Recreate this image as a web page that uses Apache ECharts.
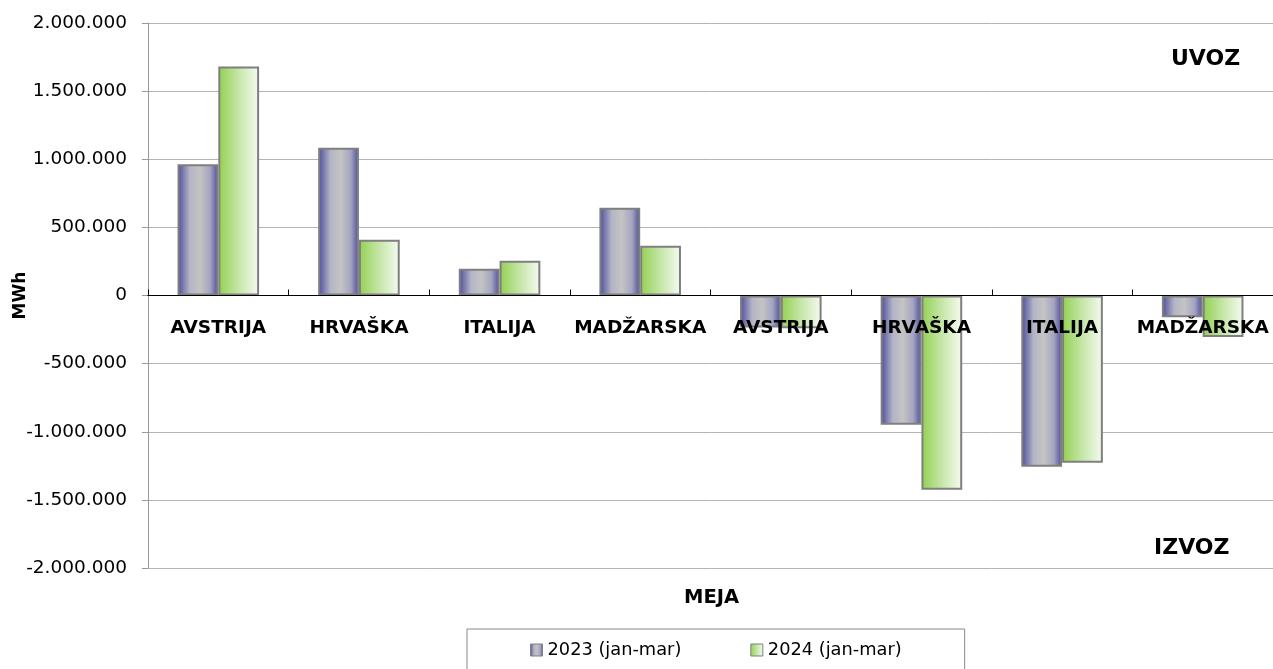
<!DOCTYPE html>
<html>
<head>
<meta charset="utf-8">
<script src="https://cdn.jsdelivr.net/npm/echarts@6/dist/echarts.min.js"></script>
<style>
html,body{margin:0;padding:0;background:#fff;}
#c{width:1273px;height:669px;}
</style>
</head>
<body>
<div id="c"></div>
<script>
const categories = ['AVSTRIJA','HRVAŠKA','ITALIJA','MADŽARSKA','AVSTRIJA','HRVAŠKA','ITALIJA','MADŽARSKA'];
const seriesNames = ['2023 (jan-mar)','2024 (jan-mar)'];
const values2023 = [964000, 1084000, 196000, 644000, -235000, -949000, -1257000, -159000];
const values2024 = [1681000, 409000, 255000, 365000, -240000, -1426000, -1228000, -305000];
const yTicks = [-2000000, 2000000, 500000];

function fmt(v){
  const s = Math.abs(v).toString().replace(/\B(?=(\d{3})+(?!\d))/g, '.');
  return (v < 0 ? '-' : '') + s;
}
const FONT = '"DejaVu Sans", "Liberation Sans", sans-serif';
const grad2023 = new echarts.graphic.LinearGradient(0,0,1,0,[
  {offset:0,color:'#4a4a9c'},{offset:0.3,color:'#b4b4c6'},{offset:0.55,color:'#c4c4c4'},{offset:0.8,color:'#a4a4c0'},{offset:1,color:'#4a4a9c'}]);
const grad2024 = new echarts.graphic.LinearGradient(0,0,1,0,[
  {offset:0,color:'#92d050'},{offset:0.5,color:'#c6e6a8'},{offset:1,color:'#f6fbf2'}]);

const GRID_TOP = 23, GRID_BOTTOM = 101, H = 669;
const plotH = H - GRID_TOP - GRID_BOTTOM;
const zeroOffset = -plotH * (0 - yTicks[0]) / (yTicks[1] - yTicks[0]);

const chart = echarts.init(document.getElementById('c'));
chart.setOption({
  animation:false,
  backgroundColor:'#fff',
  grid:{left:148,right:0,top:GRID_TOP,bottom:GRID_BOTTOM,containLabel:false,outerBoundsMode:'none'},
  legend:{
    bottom:-14, left:467,
    itemWidth:12,itemHeight:12,itemGap:69,
    padding:[12,63,24,63],
    borderColor:'#888',borderWidth:1,
    textStyle:{fontFamily:FONT,fontSize:17.8,color:'#000'},
    data:[
      {name:seriesNames[0],icon:'rect',itemStyle:{color:grad2023,borderColor:'#7f7f7f',borderWidth:1}},
      {name:seriesNames[1],icon:'rect',itemStyle:{color:grad2024,borderColor:'#7f7f7f',borderWidth:1}}
    ]
  },
  xAxis:{
    type:'category',data:categories,
    z:10,
    offset:zeroOffset,
    axisLine:{onZero:false,lineStyle:{color:'#000',width:1}},
    axisTick:{show:true,inside:true,length:6,lineStyle:{color:'#000'}},
    axisLabel:{interval:0,margin:23,fontFamily:FONT,fontSize:18.5,fontWeight:'bold',color:'#000'},
    splitLine:{show:false}
  },
  yAxis:{
    type:'value',min:yTicks[0],max:yTicks[1],interval:yTicks[2],
    name:'MWh',nameLocation:'middle',nameGap:119,nameRotate:90,nameMoveOverlap:false,
    nameTextStyle:{fontFamily:FONT,fontSize:17,fontWeight:'bold',color:'#000'},
    axisLine:{show:true,lineStyle:{color:'#999'}},
    axisTick:{show:true,length:6,lineStyle:{color:'#999'}},
    axisLabel:{margin:21,fontFamily:FONT,fontSize:18.5,color:'#000',formatter:fmt},
    splitLine:{show:true,lineStyle:{color:'#b4b4b4',width:1}}
  },
  series:[
    {name:seriesNames[0],type:'bar',data:values2023,barGap:'0%',barCategoryGap:'42%',
     itemStyle:{color:grad2023,borderColor:'#7f7f7f',borderWidth:2}},
    {name:seriesNames[1],type:'bar',data:values2024,barGap:'0%',barCategoryGap:'42%',
     itemStyle:{color:grad2024,borderColor:'#7f7f7f',borderWidth:2}}
  ],
  graphic:[
    {type:'text',left:1171,top:48,style:{text:'UVOZ',fontFamily:FONT,fontSize:22,fontWeight:'bold',fill:'#000'}},
    {type:'text',left:1154,top:537,style:{text:'IZVOZ',fontFamily:FONT,fontSize:22,fontWeight:'bold',fill:'#000'}},
    {type:'text',left:684,top:588,style:{text:'MEJA',fontFamily:FONT,fontSize:19.5,fontWeight:'bold',fill:'#000'}}
  ]
});
</script>
</body>
</html>
